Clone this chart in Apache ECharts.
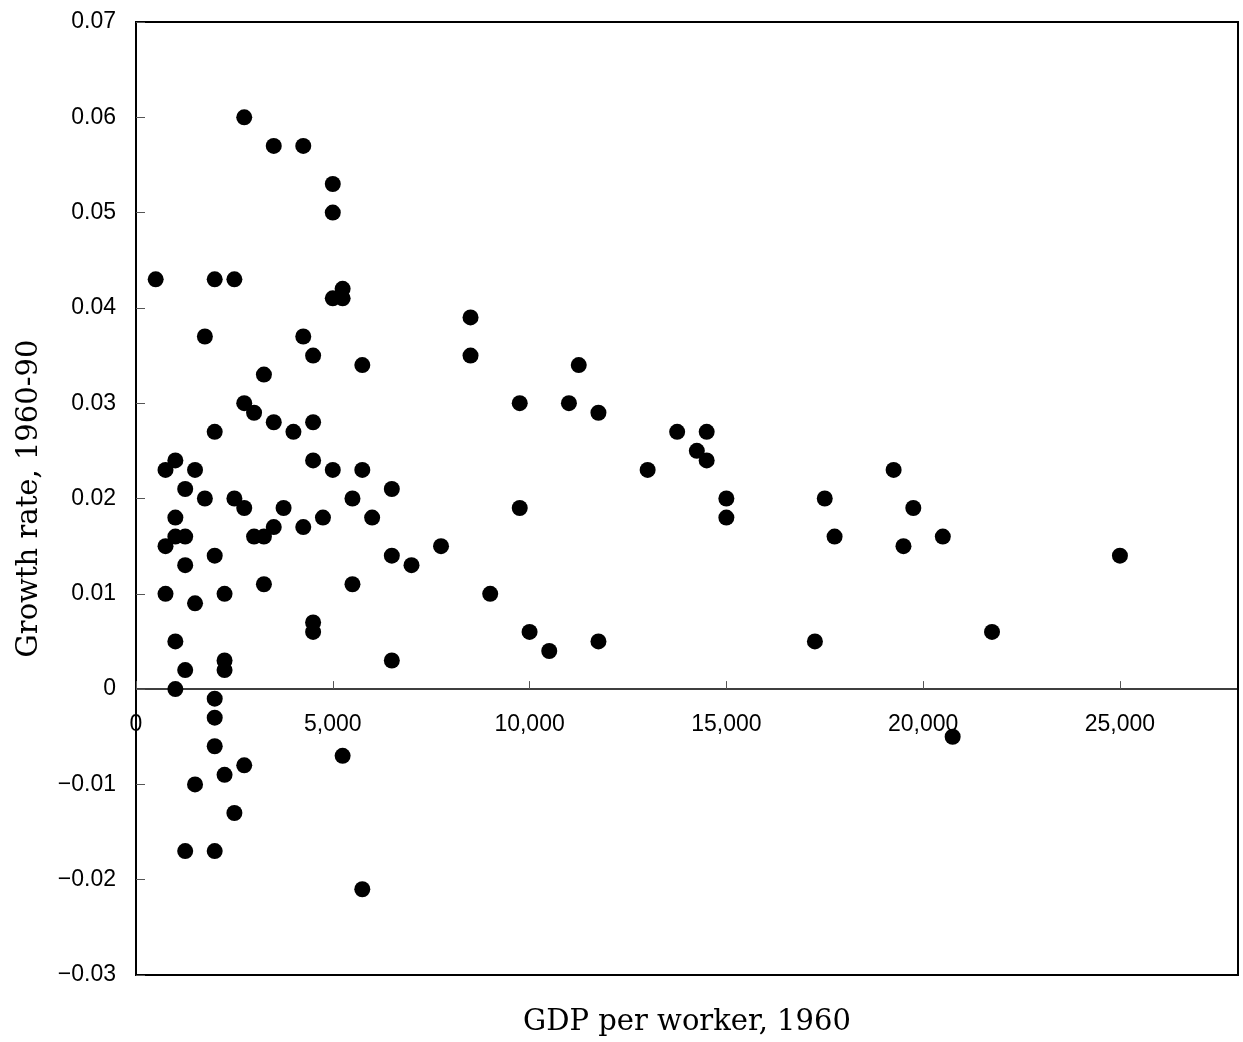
<!DOCTYPE html>
<html>
<head>
<meta charset="utf-8">
<script src="https://cdn.jsdelivr.net/npm/echarts@6/dist/echarts.min.js"></script>
<style>
html,body{margin:0;padding:0;background:#fff;}
#chart{width:1243px;height:1042px;}
</style>
</head>
<body>
<div id="chart"></div>
<script>
// GDP per worker, 1960
var gdpPerWorker = [
  2750, 3500, 4250, 5000, 5000, 500, 2000, 2500, 5250, 5000,
  5250, 8500, 1750, 4250, 4500, 8500, 5750, 11250, 3250, 2750,
  9750, 11000, 3000, 11750, 3500, 4500, 2000, 4000, 13750, 14500,
  14250, 1000, 4500, 14500, 750, 1500, 5000, 5750, 13000, 19250,
  1250, 6500, 1750, 2500, 5500, 15000, 17500, 2750, 3750, 9750,
  19750, 1000, 4750, 6000, 15000, 3500, 4250, 1000, 1250, 3000,
  3250, 17750, 20500, 750, 7750, 19500, 2000, 6500, 25000, 1250,
  7000, 3250, 5500, 750, 2250, 9000, 1500, 4500, 4500, 10000,
  21750, 1000, 11750, 17250, 10500, 2250, 6500, 1250, 2250, 1000,
  2000, 2000, 20750, 2000, 5250, 2750, 2250, 1500, 2500, 1250,
  2000, 5750
];
// Growth rate, 1960-90
var growthRate = [
  0.060, 0.057, 0.057, 0.053, 0.050, 0.043, 0.043, 0.043, 0.042, 0.041,
  0.041, 0.039, 0.037, 0.037, 0.035, 0.035, 0.034, 0.034, 0.033, 0.030,
  0.030, 0.030, 0.029, 0.029, 0.028, 0.028, 0.027, 0.027, 0.027, 0.027,
  0.025, 0.024, 0.024, 0.024, 0.023, 0.023, 0.023, 0.023, 0.023, 0.023,
  0.021, 0.021, 0.020, 0.020, 0.020, 0.020, 0.020, 0.019, 0.019, 0.019,
  0.019, 0.018, 0.018, 0.018, 0.018, 0.017, 0.017, 0.016, 0.016, 0.016,
  0.016, 0.016, 0.016, 0.015, 0.015, 0.015, 0.014, 0.014, 0.014, 0.013,
  0.013, 0.011, 0.011, 0.010, 0.010, 0.010, 0.009, 0.007, 0.006, 0.006,
  0.006, 0.005, 0.005, 0.005, 0.004, 0.003, 0.003, 0.002, 0.002, 0.000,
  -0.001, -0.003, -0.005, -0.006, -0.007, -0.008, -0.009, -0.010, -0.013, -0.017,
  -0.017, -0.021
];
var xTitle = 'GDP per worker, 1960';
var yTitle = 'Growth rate, 1960-90';

var points = gdpPerWorker.map(function (x, i) { return [x, growthRate[i]]; });

var Y_MIN = -0.03, Y_MAX = 0.07;
var GRID_TOP = 22, GRID_BOTTOM = 67, CHART_H = 1042;
var plotH = CHART_H - GRID_TOP - GRID_BOTTOM;
// move the x axis up from the grid bottom to where y = 0 sits
var zeroOffset = -plotH * (0 - Y_MIN) / (Y_MAX - Y_MIN);

var chart = echarts.init(document.getElementById('chart'));
chart.setOption({
  animation: false,
  backgroundColor: '#fff',
  grid: {
    left: 136, right: 5, top: GRID_TOP, bottom: GRID_BOTTOM,
    containLabel: false,
    outerBoundsMode: 'none',
    show: true, borderColor: '#000', borderWidth: 2, backgroundColor: 'transparent'
  },
  xAxis: {
    type: 'value',
    min: 0, max: 28000, interval: 5000,
    position: 'bottom',
    offset: zeroOffset,
    axisLine: { show: true, onZero: false, lineStyle: { color: '#000', width: 1.5 } },
    axisTick: { show: true, inside: true, length: 8, lineStyle: { color: '#555', width: 1 } },
    axisLabel: {
      color: '#000', fontFamily: 'Liberation Sans', fontSize: 23, margin: 24,
      showMaxLabel: false,
      formatter: function (v) { return v.toLocaleString('en-US'); }
    },
    splitLine: { show: false },
    name: xTitle,
    nameLocation: 'middle',
    nameGap: 319,
    nameTextStyle: { color: '#000', fontFamily: 'DejaVu Serif', fontSize: 29 }
  },
  yAxis: {
    type: 'value',
    min: Y_MIN, max: Y_MAX, interval: 0.01,
    axisLine: { show: true, onZero: false, lineStyle: { color: '#000', width: 2 } },
    axisTick: { show: true, inside: true, length: 9, lineStyle: { color: '#555', width: 1 } },
    axisLabel: {
      color: '#000', fontFamily: 'Liberation Sans', fontSize: 23, margin: 20,
      formatter: function (v) {
        var r = Math.round(v * 100) / 100;
        if (r === 0) return '0';
        return (r < 0 ? '\u2212' : '') + Math.abs(r).toFixed(2);
      }
    },
    splitLine: { show: false },
    name: yTitle,
    nameLocation: 'middle',
    nameRotate: 90,
    nameGap: 92,
    nameTextStyle: { color: '#000', fontFamily: 'DejaVu Serif', fontSize: 29 }
  },
  series: [{
    type: 'scatter',
    data: points,
    symbol: 'circle',
    symbolSize: 16,
    itemStyle: { color: '#000', opacity: 1 }
  }]
});
</script>
</body>
</html>
